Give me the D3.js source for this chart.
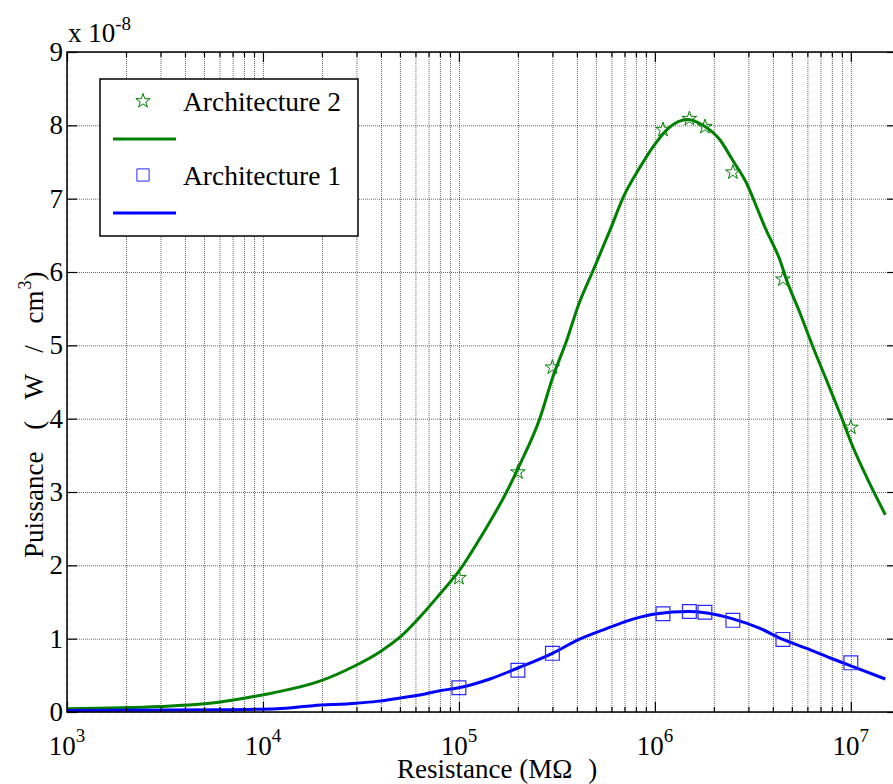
<!DOCTYPE html>
<html><head><meta charset="utf-8">
<script src="https://cdn.jsdelivr.net/npm/d3@7"></script>
<style>
body{margin:0;background:#fff}
</style>
</head><body>
<svg id="chart" width="893" height="784"></svg>
<script>
// ---------- data ----------
const xMin = 1e3, xMax = 1.72e7;
const yMin = 0, yMax = 9;
const yTickValues = [0,1,2,3,4,5,6,7,8,9];
const xMajorTicks = [1e3,1e4,1e5,1e6,1e7];
const xMajorExponents = ["3","4","5","6","7"];
const yScaleLabel = ["x 10", "-8"];

// Architecture 2 (green) curve
const arch2R = [1e3,3e3,5.8e3,8.9e3,1.12e4,1.95e4,2.9e4,4e4,5e4,6.8e4,8e4,1e5,1.33e5,1.75e5,2e5,2.6e5,3e5,3.55e5,4.1e5,4.8e5,5.9e5,6.9e5,8.4e5,9.8e5,1.17e6,1.48e6,1.76e6,2.15e6,2.5e6,2.95e6,3.3e6,3.7e6,4.35e6,4.7e6,5.5e6,6.4e6,7.5e6,8.8e6,1.03e7,1.2e7,1.5e7];
const arch2P = [0.045,0.076,0.13,0.21,0.26,0.42,0.62,0.83,1.02,1.39,1.61,1.92,2.44,3.0,3.32,4.02,4.55,5.07,5.57,6.0,6.57,7.02,7.43,7.71,7.96,8.08,8.0,7.8,7.52,7.2,6.89,6.57,6.16,5.89,5.44,4.98,4.53,4.07,3.6,3.21,2.69];

// Architecture 1 (blue) curve
const arch1R = [1e3,6e3,1.18e4,1.8e4,3e4,3.8e4,5e4,6.8e4,8e4,1e5,1.44e5,2e5,3e5,4.1e5,5.7e5,7.8e5,1.02e6,1.48e6,1.84e6,2.5e6,3.44e6,4.5e6,5.9e6,7.8e6,1e7,1.5e7];
const arch1P = [0.02,0.03,0.045,0.086,0.12,0.145,0.19,0.25,0.29,0.33,0.45,0.6,0.8,0.99,1.14,1.27,1.34,1.37,1.35,1.27,1.14,0.99,0.87,0.74,0.63,0.45];

// measured points (markers)
const markR = [1e5,2e5,3e5,1.1e6,1.5e6,1.8e6,2.5e6,4.5e6,1e7];
const arch2Mark = [1.83,3.27,4.70,7.94,8.09,7.98,7.36,5.90,3.88];
const arch1Mark = [0.33,0.57,0.80,1.34,1.37,1.36,1.25,0.99,0.67];

const legendLabels = ["Architecture 2","Architecture 1"];
const xAxisLabelMain = "Resistance (MΩ";
const xAxisLabelEnd = ")";
const yAxisLabelMain = "Puissance ( W / cm";
const yAxisLabelSup = "3";
const yAxisLabelEnd = ")";

// ---------- layout ----------
const L = 67, T = 52, R = 897, B = 712;
const green = "#008000", blue = "#0000ff";
const FONT = '"Liberation Serif", "Times New Roman", Times, serif';

const svg = d3.select("#chart");
const x = d3.scaleLog().domain([xMin, xMax]).range([L, R]);
const y = d3.scaleLinear().domain([yMin, yMax]).range([B, T]);

function txt(sel){ return sel.style("font-family", FONT).attr("fill","#000"); }

// minor ticks
const xMinor = [];
for (let e = 3; e <= 7; e++) for (let k = 2; k <= 9; k++) { const v = k * Math.pow(10, e); if (v <= xMax) xMinor.push(v); }
const xAll = xMajorTicks.concat(xMinor);

// grid
const grid = svg.append("g");
grid.append("g").attr("transform", `translate(0,${B})`)
  .call(d3.axisBottom(x).tickValues(xAll).tickSize(-(B - T)).tickFormat(""))
  .call(g => g.select(".domain").remove());
grid.append("g").attr("transform", `translate(${L},0)`)
  .call(d3.axisLeft(y).tickValues(yTickValues).tickSize(-(R - L)).tickFormat(""))
  .call(g => g.select(".domain").remove());
grid.selectAll("line").attr("stroke", "#000").attr("stroke-opacity", 0.6)
  .attr("stroke-width", 1).attr("stroke-dasharray", "1,1");
grid.selectAll("text").remove();

// curves
const line = d3.line().x(d => x(d[0])).y(d => y(d[1])).curve(d3.curveMonotoneX);
svg.append("path").datum(arch2R.map((r,i)=>[r,arch2P[i]]))
  .attr("d", line).attr("fill","none").attr("stroke",green).attr("stroke-width",3);
svg.append("path").datum(arch1R.map((r,i)=>[r,arch1P[i]]))
  .attr("d", line).attr("fill","none").attr("stroke",blue).attr("stroke-width",3);

// markers
const star = d3.symbol().type(d3.symbolStar).size(66);
const square = d3.symbol().type(d3.symbolSquare).size(190);
svg.append("g").selectAll("path").data(markR.map((r,i)=>[r,arch2Mark[i]])).join("path")
  .attr("d", star).attr("transform", d => `translate(${x(d[0])},${y(d[1])})`)
  .attr("fill","none").attr("stroke",green).attr("stroke-width",1);
svg.append("g").selectAll("path").data(markR.map((r,i)=>[r,arch1Mark[i]])).join("path")
  .attr("d", square).attr("transform", d => `translate(${x(d[0])},${y(d[1])})`)
  .attr("fill","none").attr("stroke","#2a2aff").attr("stroke-width",1.2);

// axes ticks (inward, all four sides)
function styleAxis(g){ g.select(".domain").remove(); g.selectAll("text").remove(); g.selectAll("line").attr("stroke","#000").attr("stroke-width",1.2); }
svg.append("g").attr("transform",`translate(0,${B})`).call(d3.axisBottom(x).tickValues(xMajorTicks).tickSize(-10).tickFormat("")).call(styleAxis);
svg.append("g").attr("transform",`translate(0,${B})`).call(d3.axisBottom(x).tickValues(xMinor).tickSize(-5).tickFormat("")).call(styleAxis);
svg.append("g").attr("transform",`translate(0,${T})`).call(d3.axisTop(x).tickValues(xMajorTicks).tickSize(-10).tickFormat("")).call(styleAxis);
svg.append("g").attr("transform",`translate(0,${T})`).call(d3.axisTop(x).tickValues(xMinor).tickSize(-5).tickFormat("")).call(styleAxis);
svg.append("g").attr("transform",`translate(${L},0)`).call(d3.axisLeft(y).tickValues(yTickValues).tickSize(-10).tickFormat("")).call(styleAxis);
svg.append("g").attr("transform",`translate(${R},0)`).call(d3.axisRight(y).tickValues(yTickValues).tickSize(-10).tickFormat("")).call(styleAxis);

// box
svg.append("rect").attr("x",L).attr("y",T).attr("width",R-L).attr("height",B-T)
  .attr("fill","none").attr("stroke","#000").attr("stroke-width",1.5);

// x tick labels
const xl = svg.append("g").selectAll("text").data(xMajorTicks).join("text")
  .attr("x", d => x(d)).attr("y", 755).attr("text-anchor","middle").attr("font-size",27).call(txt);
xl.append("tspan").text("10");
xl.append("tspan").attr("dy",-13).attr("font-size",19).text((d,i)=>xMajorExponents[i]);

// y tick labels
svg.append("g").selectAll("text").data(yTickValues).join("text")
  .attr("x", 63).attr("y", d => y(d) + 9).attr("text-anchor","end")
  .attr("font-size",27).call(txt).text(d => d);

// scale factor label
const sf = svg.append("text").attr("x",68).attr("y",42).attr("font-size",27).call(txt);
sf.append("tspan").text(yScaleLabel[0]);
sf.append("tspan").attr("dy",-12).attr("font-size",19).text(yScaleLabel[1]);

// axis labels
const xlab = svg.append("text").attr("x",397).attr("y",778).attr("font-size",27).call(txt);
xlab.append("tspan").text(xAxisLabelMain);
xlab.append("tspan").attr("dx",16).text(xAxisLabelEnd);

const yl = svg.append("text").attr("transform","translate(43,558) rotate(-90)")
  .attr("font-size",27).style("word-spacing","15px").call(txt);
yl.append("tspan").text(yAxisLabelMain);
yl.append("tspan").attr("dy",-12).attr("dx",1).attr("font-size",18).text(yAxisLabelSup);
yl.append("tspan").attr("dy",12).text(yAxisLabelEnd);

// legend
const lg = svg.append("g");
lg.append("rect").attr("x",100).attr("y",79).attr("width",258).attr("height",157)
  .attr("fill","#fff").attr("stroke","#000").attr("stroke-width",1.5);
const legendItems = [
  {label: legendLabels[0], color: green, sym: d3.symbol().type(d3.symbolStar).size(64)(), ty: 101, ly: 139},
  {label: legendLabels[1], color: "#2a2aff", sym: d3.symbol().type(d3.symbolSquare).size(150)(), ty: 175, ly: 213}
];
legendItems.forEach((it, i) => {
  lg.append("path").attr("d", it.sym)
    .attr("transform", `translate(143,${it.ty})`).attr("fill","none").attr("stroke",it.color).attr("stroke-width",1);
  lg.append("text").attr("x",183).attr("y",it.ty + 9.5).attr("font-size",27.5).call(txt).text(it.label);
  lg.append("line").attr("x1",113).attr("x2",176).attr("y1",it.ly).attr("y2",it.ly)
    .attr("stroke", i === 0 ? green : blue).attr("stroke-width",3);
});
</script>
</body></html>
